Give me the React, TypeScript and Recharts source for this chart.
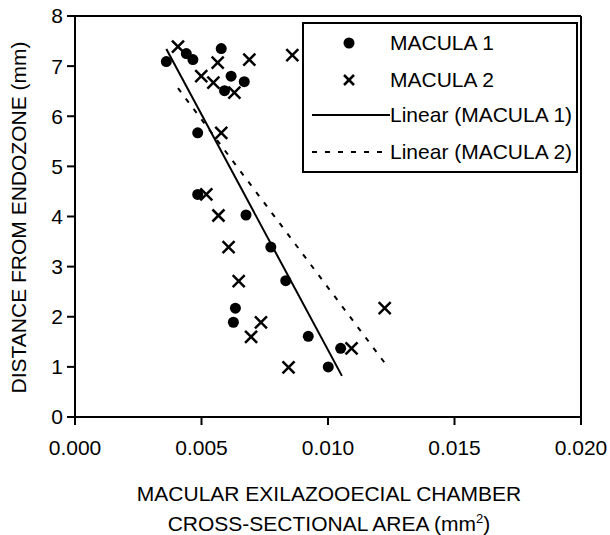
import React from 'react';
import {
    ScatterChart,
    Scatter,
    XAxis,
    YAxis,
    ReferenceLine
} from 'recharts';

// values
const macula1X = [0.00361, 0.0044, 0.00466, 0.00578, 0.00617, 0.00669, 0.00591, 0.00485, 0.00485, 0.00676, 0.00774, 0.00833, 0.00634, 0.00626, 0.00922, 0.0105, 0.01001];
const macula1Y = [7.09, 7.25, 7.13, 7.35, 6.8, 6.69, 6.51, 5.67, 4.44, 4.03, 3.39, 2.72, 2.17, 1.89, 1.61, 1.37, 1.0];

const macula2X = [0.00407, 0.00564, 0.00689, 0.00859, 0.00499, 0.00547, 0.0063, 0.00578, 0.00519, 0.00567, 0.00607, 0.00647, 0.00735, 0.00696, 0.00844, 0.01224, 0.01093];
const macula2Y = [7.39, 7.07, 7.13, 7.22, 6.8, 6.67, 6.47, 5.67, 4.44, 4.02, 3.39, 2.71, 1.89, 1.6, 0.99, 2.17, 1.37];

// trend line end points
const trend1X = [0.00361, 0.01055];
const trend1Y = [7.34, 0.82];
const trend2X = [0.00407, 0.01224];
const trend2Y = [6.56, 1.08];

const xTicks = [0, 0.005, 0.01, 0.015, 0.02];
const yTicks = [0, 1, 2, 3, 4, 5, 6, 7, 8];

const zip = (xs: number[], ys: number[]) => xs.map((x, i) => ({ x, y: ys[i] }));

const FONT = '"Liberation Sans", Arial, sans-serif';
const FS = 21;

const Dot = (props: any) => {
    const { cx, cy } = props;
    return <circle cx={cx} cy={cy} r={5.5} fill="#000" />;
};

const Cross = (props: any) => {
    const { cx, cy } = props;
    const s = 6;
    return (
        <g stroke="#000" strokeWidth={2.5}>
            <line x1={cx - s} y1={cy - s} x2={cx + s} y2={cy + s} />
            <line x1={cx - s} y1={cy + s} x2={cx + s} y2={cy - s} />
        </g>
    );
};

const NoShape = () => <g />;

const legendRows = [
    { label: 'MACULA 1', kind: 'dot', top: 21 },
    { label: 'MACULA 2', kind: 'cross', top: 58 },
    { label: 'Linear (MACULA 1)', kind: 'solid', top: 93 },
    { label: 'Linear (MACULA 2)', kind: 'dashed', top: 130 }
];

const LegendBox = () => (
    <div style={{
        position: 'absolute', left: 302, top: 22, width: 276, height: 151, boxSizing: 'border-box',
        border: '2px solid #000', background: '#fff', fontFamily: FONT, fontSize: FS, color: '#000'
    }}>
        {legendRows.map(r => (
            <div key={r.label} style={{ position: 'absolute', left: 0, top: r.top - 14, height: 24, width: 272 }}>
                <svg width={88} height={24} style={{ position: 'absolute', left: 6, top: 0 }}>
                    {r.kind === 'dot' && <circle cx={39} cy={12} r={5.5} fill="#000" />}
                    {r.kind === 'cross' && (
                        <g stroke="#000" strokeWidth={2.5}>
                            <line x1={34} y1={7} x2={44} y2={17} />
                            <line x1={34} y1={17} x2={44} y2={7} />
                        </g>
                    )}
                    {r.kind === 'solid' && <line x1={2} y1={12} x2={80} y2={12} stroke="#000" strokeWidth={2} />}
                    {r.kind === 'dashed' && <line x1={2} y1={12} x2={80} y2={12} stroke="#000" strokeWidth={2} strokeDasharray="5 8" />}
                </svg>
                <span style={{
                    position: 'absolute', left: 86, top: 0, lineHeight: '24px', whiteSpace: 'nowrap'
                }}>{r.label}</span>
            </div>
        ))}
    </div>
);

export default function App() {
    const tickStyle = { fontSize: FS, fill: '#000', fontFamily: FONT };
    const titleStyle: React.CSSProperties = {
        position: 'absolute', left: 29, width: 600, textAlign: 'center',
        fontFamily: FONT, fontSize: FS, lineHeight: `${FS}px`, whiteSpace: 'nowrap'
    };
    return (
        <div style={{ position: 'absolute', left: 0, top: 0, width: 610, height: 535, background: '#fff' }}>
            <ScatterChart
                width={610}
                height={535}
                margin={{ top: 16, right: 29, bottom: 88, left: 45 }}
            >
                <XAxis
                    type="number"
                    dataKey="x"
                    domain={[0, 0.02]}
                    ticks={xTicks}
                    tickFormatter={(v: number) => v.toFixed(3)}
                    axisLine={{ stroke: '#000', strokeWidth: 2 }}
                    tickLine={{ stroke: '#000', strokeWidth: 2 }}
                    tickSize={8}
                    tickMargin={15}
                    tick={tickStyle}
                    height={30}
                    interval={0}
                />
                <YAxis
                    type="number"
                    dataKey="y"
                    domain={[0, 8]}
                    ticks={yTicks}
                    axisLine={{ stroke: '#000', strokeWidth: 2 }}
                    tickLine={{ stroke: '#000', strokeWidth: 2 }}
                    tickSize={8}
                    tickMargin={4}
                    tick={tickStyle}
                    width={30}
                    interval={0}
                />
                <ReferenceLine y={8} stroke="#000" strokeWidth={2} />
                <ReferenceLine x={0.02} stroke="#000" strokeWidth={2} />
                <Scatter
                    name="Linear (MACULA 1)"
                    data={zip(trend1X, trend1Y)}
                    line={{ stroke: '#000', strokeWidth: 2 }}
                    shape={NoShape}
                    isAnimationActive={false}
                />
                <Scatter
                    name="Linear (MACULA 2)"
                    data={zip(trend2X, trend2Y)}
                    line={{ stroke: '#000', strokeWidth: 2, strokeDasharray: '5 8' }}
                    shape={NoShape}
                    isAnimationActive={false}
                />
                <Scatter name="MACULA 1" data={zip(macula1X, macula1Y)} shape={Dot} isAnimationActive={false} />
                <Scatter name="MACULA 2" data={zip(macula2X, macula2Y)} shape={Cross} isAnimationActive={false} />
            </ScatterChart>
            <LegendBox />
            <div style={{
                position: 'absolute', left: 18 - 220, top: 217 - 10.5, width: 440, height: 21,
                transform: 'rotate(-90deg)', textAlign: 'center', fontFamily: FONT, fontSize: FS,
                lineHeight: `${FS}px`, whiteSpace: 'nowrap'
            }}>
                DISTANCE FROM ENDOZONE (mm)
            </div>
            <div style={{ ...titleStyle, top: 483 }}>
                MACULAR EXILAZOOECIAL CHAMBER
            </div>
            <div style={{ ...titleStyle, top: 513 }}>
                CROSS-SECTIONAL AREA (mm<sup style={{ fontSize: 13, lineHeight: 0 }}>2</sup>)
            </div>
        </div>
    );
}
